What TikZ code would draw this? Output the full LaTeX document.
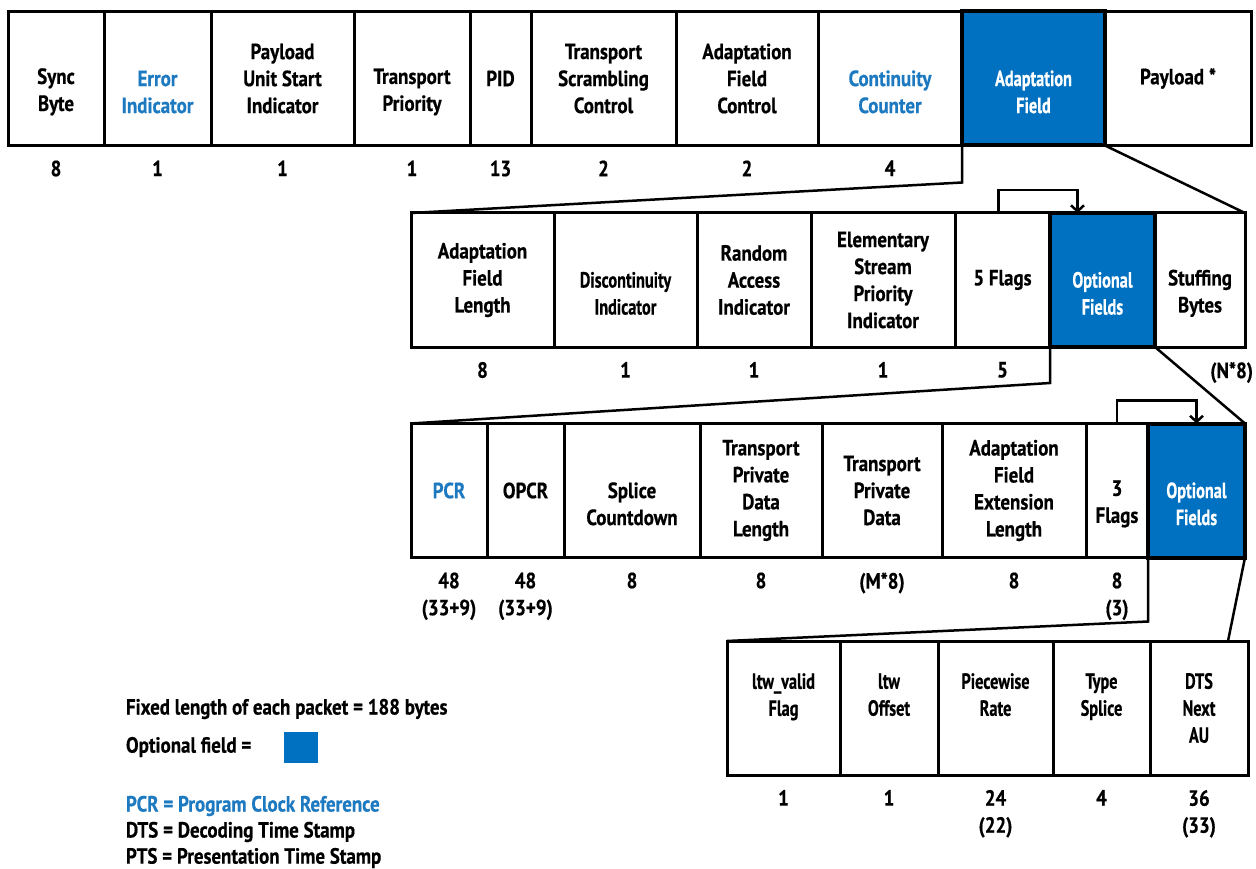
\documentclass[tikz,border=0pt]{standalone}
\usepackage{fontspec}
\setmainfont[FakeStretch=0.86,FakeBold=0.5]{PT Sans}
\newfontfamily\narrowfont[FakeStretch=0.74,FakeBold=0.5]{PT Sans}
\usetikzlibrary{arrows.meta}
\definecolor{fieldblue}{RGB}{0,112,192}
\definecolor{textblue}{RGB}{30,122,192}
\newcommand{\blankline}{\mbox{\vphantom{Tl}}}

\begin{document}
\begin{tikzpicture}[x=1pt, y=-1pt,
    every node/.style = {font=\bfseries\fontsize{22}{27}\selectfont,
      align=center, inner sep=0pt, outer sep=0pt},
    field/.style = {draw, line width=3pt, minimum height=134pt},
    bluefield/.style = {field, text=textblue},
    optfield/.style = {field, fill=fieldblue, text=white, line width=4pt,
      font=\narrowfont\bfseries\fontsize{22}{27}\selectfont},
    narrowfield/.style = {field, font=\narrowfont\bfseries\fontsize{22}{27}\selectfont},
    bits/.style = {anchor=north},
    zoomline/.style = {line width=2.5pt, line join=miter},
    flagarrow/.style = {line width=2.5pt, -{Straight Barb[length=6pt,width=13pt,line width=2.5pt]}},
    legend/.style = {anchor=west}]
  \useasboundingbox (0,0) rectangle (1256,869);

  % transport packet header
  \foreach \l/\r/\n/\s/\t in {8/104/sync/field/{\blankline\\Sync\\Byte},
      104/211/err/bluefield/{\blankline\\Error\\Indicator},
      211/354/pusi/field/{Payload\\Unit Start\\Indicator},
      354/470/tprio/field/{\blankline\\Transport\\Priority},
      470/531/pid/field/{PID},
      531/676/tsc/field/{Transport\\Scrambling\\Control},
      676/818/afc/field/{Adaptation\\Field\\Control},
      818/962/cc/bluefield/{\blankline\\Continuity\\Counter},
      962/1105/adapt/optfield/{\blankline\\Adaptation\\Field},
      1105/1251/payload/field/{Payload *}}
    \node[\s, minimum width={(\r-\l)*1pt}] (\n) at ({(\l+\r)/2},78.5) {\t};

  % adaptation field
  \foreach \l/\r/\n/\s/\t in {411/554/afl/field/{Adaptation\\Field\\Length},
      554/697/disc/narrowfield/{\blankline\\Discontinuity\\Indicator},
      697/811/rai/field/{Random\\Access\\Indicator},
      811/955/espi/field/{Elementary\\Stream\\Priority\\Indicator},
      955/1050/flags5/field/{5 Flags},
      1050/1155/opt1/optfield/{\blankline\\Optional\\Fields},
      1155/1245/stuff/field/{\blankline\\Stuffing\\Bytes}}
    \node[\s, minimum width={(\r-\l)*1pt}] (\n) at ({(\l+\r)/2},280) {\t};

  % optional fields
  \foreach \l/\r/\n/\s/\t in {411/487/pcr/bluefield/{PCR},
      487/564/opcr/field/{OPCR},
      564/700/splice/field/{\blankline\\Splice\\Countdown},
      700/822/tpdl/field/{Transport\\Private\\Data\\Length},
      822/942/tpd/field/{Transport\\Private\\Data},
      942/1086/afel/field/{Adaptation\\Field\\Extension\\Length},
      1086/1148/flags3/field/{\blankline\\3\\Flags},
      1148/1245/opt2/optfield/{\blankline\\Optional\\Fields}}
    \node[\s, minimum width={(\r-\l)*1pt}] (\n) at ({(\l+\r)/2},490.5) {\t};

  % extension fields
  \foreach \l/\r/\n/\t in {727/840/ltwflag/{ltw\_valid\\Flag\\\mbox{}},
      840/938/ltwoff/{ltw\\Offset\\\mbox{}},
      938/1053/prate/{Piecewise\\Rate\\\mbox{}},
      1053/1150/tsplice/{Type\\Splice\\\mbox{}},
      1150/1248/dtsau/{DTS\\Next\\AU}}
    \node[narrowfield, minimum width={(\r-\l)*1pt}] (\n) at ({(\l+\r)/2},708) {\t};

  % bit counts
  \foreach \n/\b in {sync/8, err/1, pusi/1, tprio/1, pid/13, tsc/2, afc/2, cc/4,
      afl/8, disc/1, rai/1, espi/1, flags5/5,
      pcr/{48\\(33+9)}, opcr/{48\\(33+9)}, splice/8, tpdl/8, tpd/(M*8),
      afel/8, flags3/{8\\(3)},
      ltwflag/1, ltwoff/1, prate/{24\\(22)}, tsplice/4, dtsau/{36\\(33)}}
    \node[bits] (b-\n) at ([yshift=-15pt]\n.south) {\b};
  \node[bits, anchor=north east] (b-stuff) at ([xshift=8pt,yshift=-15pt]stuff.south east) {(N*8)};

  % zoom lines
  \draw[zoomline] (adapt.south west) -- ++(0,37) -- (afl.north west);
  \draw[zoomline] (adapt.south east) -- (stuff.north east);
  \draw[zoomline] (opt1.south west) -- ++(0,36) -- (pcr.north west);
  \draw[zoomline] (opt1.south east) -- (opt2.north east);
  \draw[zoomline] (opt2.south west) -- ++(0,64) -- (ltwflag.north west);
  \draw[zoomline] (opt2.south east) -- ([xshift=-20pt]dtsau.north east);

  % flag arrows
  \draw[flagarrow] ([xshift=-4pt]flags5.north) -- ++(0,-23) -| ([xshift=-25pt]opt1.north);
  \draw[flagarrow] (flags3.north) -- ++(0,-23) -| (opt2.north);

  % legend
  \node[legend] (fixed) at (126,709) {Fixed length of each packet = 188 bytes};
  \node[legend] (optkey) at (126,747) {Optional field =};
  \node[fill=fieldblue, minimum width=34pt, minimum height=31pt] (keybox) at (301,747.5) {};
  \node[legend, text=textblue] (pcrkey) at (126,806) {PCR = Program Clock Reference};
  \node[legend] (dtskey) at (126,832) {DTS = Decoding Time Stamp};
  \node[legend] (ptskey) at (126,858) {PTS = Presentation Time Stamp};
\end{tikzpicture}
\end{document}
